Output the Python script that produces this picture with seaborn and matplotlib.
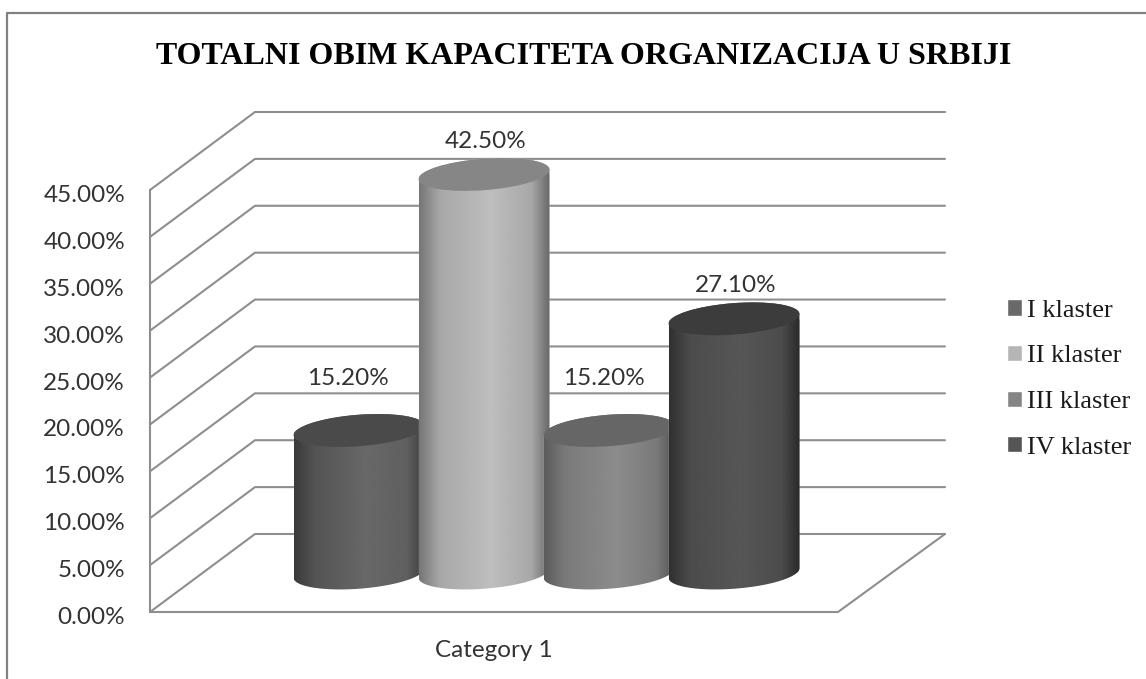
import numpy as np
import pandas as pd
import matplotlib
matplotlib.use('Agg')
import matplotlib.pyplot as plt
import seaborn as sns
from matplotlib.lines import Line2D
from matplotlib.patches import Ellipse
from matplotlib.path import Path
from matplotlib.transforms import IdentityTransform, ScaledTranslation

klasteri = ['I klaster', 'II klaster', 'III klaster', 'IV klaster']
vrednosti = [15.2, 42.5, 15.2, 27.1]
kategorije = ['Category 1'] * 4
y_podeoci = [0, 5, 10, 15, 20, 25, 30, 35, 40, 45]

# boje: legenda, vrh valjka, prelaz na omotacu (sivi tonovi)
boje = ['#696969', '#b5b5b5', '#858585', '#555555']
boje_vrh = ['#4a4a4a', '#868686', '#666666', '#3c3c3c']
tonovi = [[58, 84, 104, 96, 62],
          [118, 168, 190, 168, 104],
          [92, 122, 140, 122, 84],
          [48, 76, 86, 76, 42]]
tonovi_poz = [0, 0.16, 0.55, 0.86, 1]
pomeraj_oznaka = [(-11, 52), (2, 33), (-5, 52), (2, 33)]

W, H = 1146, 679
sns.set_theme(style='white')
fig = plt.figure(figsize=(W / 100, H / 100), dpi=100)
# osa ide sve do zadnjeg zida da slike valjaka ne budu odsecene
ax = fig.add_axes([150 / W, (H - 612) / H, 688 / W, 502 / H])
y_vrh = 502 * 45 / 422

df = pd.DataFrame({'kategorija': kategorije, 'klaster': klasteri, 'vrednost': vrednosti})
sns.barplot(data=df, x='kategorija', y='vrednost', hue='klaster', palette=boje,
            width=500 / 688, saturation=1, ax=ax)
ax.set_xlim(-0.5, 0.5)
ax.set_ylim(0, y_vrh)
ax.set_xlabel('')
ax.set_ylabel('')
sns.despine(ax=ax, left=True, bottom=True)

# dubina 3D prikaza, u jedinicama ose
dx = 105 / 688
dy = 78 * 45 / 422
x0, x1 = -0.5, 0.5
desno = x0 + 795 / 688
siva = '#8e8e8e'

for t in y_podeoci:
    ax.plot([x0, x0 + dx, desno], [t, t + dy, t + dy], color=siva, lw=1.5,
            clip_on=False, zorder=1, solid_capstyle='round')
ax.plot([x0, x0], [0, 45], color=siva, lw=1.5, clip_on=False, zorder=1)
ax.plot([x0, x1, desno], [0, 0, dy], color=siva, lw=1.5, clip_on=False, zorder=1)

a, b, ugao = 65.6, 15.7, 4.4
rad = np.deg2rad(ugao)


def elipsa(c, t):
    ex = a * np.cos(t)
    ey = b * np.sin(t)
    return np.column_stack([c[0] + ex * np.cos(rad) - ey * np.sin(rad),
                            c[1] + ex * np.sin(rad) + ey * np.cos(rad)])


sirina = 131 / 688
barovi = [c[0] for c in ax.containers]
for i, bar in enumerate(barovi):
    sredina = bar.get_x() + bar.get_width() / 2 + dx / 2
    bar.set_x(sredina - sirina / 2)
    bar.set_width(sirina)
    bar.set_y(dy / 2)
    bar.set_zorder(3 + i)

    dole = ax.transData.transform((sredina, dy / 2))
    gore = ax.transData.transform((sredina, dy / 2 + vrednosti[i]))
    obris = np.vstack([elipsa(dole, np.linspace(np.pi, 2 * np.pi, 80)),
                       elipsa(gore, np.linspace(0, np.pi, 80))])
    putanja = Path(np.vstack([obris, obris[0]]), closed=True)

    prelaz = np.interp(np.linspace(0, 1, 200), tonovi_poz, tonovi[i]).reshape(1, -1)
    slika = ax.imshow(prelaz, cmap='gray', vmin=0, vmax=255, aspect='auto',
                      extent=[dole[0] - 65.5, dole[0] + 65.5, dole[1] - 20, gore[1] + 20],
                      transform=IdentityTransform(), zorder=3 + i + 0.1)
    for art in (bar, slika):
        art.set_clip_path(putanja, IdentityTransform())

    vrh = Ellipse(gore, 2 * a, 2 * b, angle=ugao, facecolor=boje_vrh[i], edgecolor='none',
                  transform=IdentityTransform(), zorder=3 + i + 0.2, clip_on=False)
    ax.add_artist(vrh)

    ax.annotate(f'{vrednosti[i]:.2f}%', (sredina, dy / 2 + vrednosti[i]),
                xytext=pomeraj_oznaka[i], textcoords='offset pixels', ha='center', va='center',
                fontsize=17.5, family='Lato', color='#333333', zorder=20, annotation_clip=False)

ax.set_xlim(-0.5, 0.5)
ax.set_ylim(0, y_vrh)
ax.set_yticks(y_podeoci)
ax.set_yticklabels([f'{v:.2f}%' for v in y_podeoci], family='Lato', fontsize=17.5, color='#333333')
ax.tick_params(axis='y', length=0, pad=18)
ax.tick_params(axis='x', length=0, pad=20)
pomak = ScaledTranslation(0, -3.5 / 100, fig.dpi_scale_trans)
for lab in ax.get_yticklabels():
    lab.set_transform(lab.get_transform() + pomak)
for lab in ax.get_xticklabels():
    lab.set_family('Lato')
    lab.set_fontsize(17.5)
    lab.set_color('#333333')

sns.move_legend(ax, 'center left', bbox_to_anchor=(1007 / W, (H - 379) / H),
                bbox_transform=fig.transFigure, frameon=False, title=None, fontsize=19,
                handlelength=0.57, handleheight=0.57, handletextpad=0.19,
                labelspacing=0.875, borderpad=0, borderaxespad=0)
for tekst in ax.get_legend().get_texts():
    tekst.set_family('Liberation Serif')
    tekst.set_color('#1a1a1a')

fig.text(584 / W, (H - 56) / H, 'TOTALNI OBIM KAPACITETA ORGANIZACIJA U SRBIJI',
         family='Liberation Serif', fontweight='bold', fontsize=23, color='black',
         ha='center', va='center')

# okvir slike (vidi se samo levo i gore)
fig.add_artist(Line2D([7 / W, 7 / W, 1], [0, (H - 12.5) / H, (H - 12.5) / H],
                      color='#808080', lw=1.6))

fig.savefig('out.png', dpi=100)
